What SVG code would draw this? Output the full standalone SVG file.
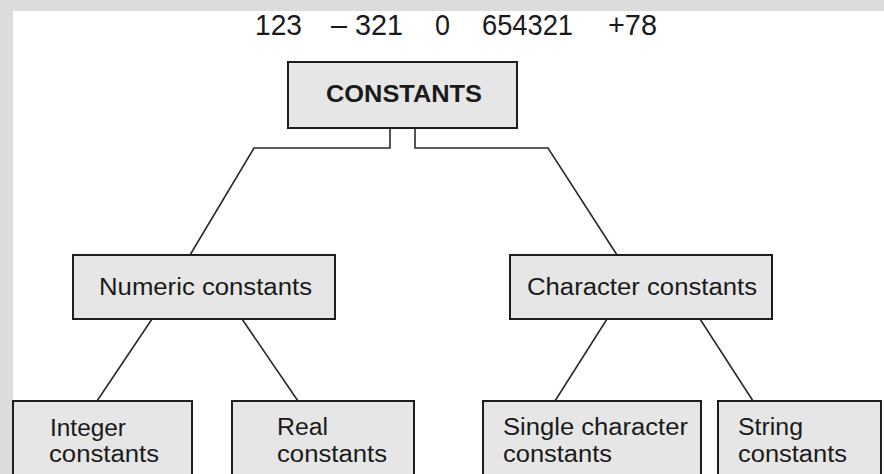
<svg xmlns="http://www.w3.org/2000/svg" width="884" height="474" viewBox="0 0 884 474">
<style>
.box{fill:#e6e6e6;stroke:#1e1e1e;stroke-width:2}
.lbl{font-family:"Liberation Sans",Arial,sans-serif;font-size:23px;fill:#1a1a1a}
.bold{font-weight:bold}
.num{font-family:"Liberation Sans",Arial,sans-serif;font-size:30px;fill:#1a1a1a}
.conn{fill:none;stroke:#2a2a2a;stroke-width:1.6}
</style>
<rect x="0" y="0" width="884" height="474" fill="#dcdcdc"/>
<rect x="13" y="11" width="871" height="463" fill="#ffffff"/>
<g id="numbers">
<text class="num" x="255" y="35" textLength="47" lengthAdjust="spacingAndGlyphs">123</text>
<text class="num" x="331" y="35" textLength="72" lengthAdjust="spacingAndGlyphs">– 321</text>
<text class="num" x="435" y="35" textLength="15" lengthAdjust="spacingAndGlyphs">0</text>
<text class="num" x="482" y="35" textLength="91" lengthAdjust="spacingAndGlyphs">654321</text>
<text class="num" x="608" y="35" textLength="49" lengthAdjust="spacingAndGlyphs">+78</text>
</g>
<g id="connectors">
<polyline class="conn" points="390,128 390,148 254,148 190,255"/>
<polyline class="conn" points="415,128 415,148 548,148 617,255"/>
<line class="conn" x1="152" y1="319" x2="97" y2="401"/>
<line class="conn" x1="242" y1="319" x2="298" y2="401"/>
<line class="conn" x1="607" y1="319" x2="555" y2="401"/>
<line class="conn" x1="700" y1="319" x2="753" y2="401"/>
</g>
<g id="constants">
<rect class="box" x="288" y="62" width="229" height="66"/>
<text class="lbl bold" x="326" y="102" textLength="156" lengthAdjust="spacingAndGlyphs">CONSTANTS</text>
</g>
<g id="numeric">
<rect class="box" x="73" y="255" width="262" height="64"/>
<text class="lbl" x="99" y="295" textLength="213" lengthAdjust="spacingAndGlyphs">Numeric constants</text>
</g>
<g id="character">
<rect class="box" x="510" y="255" width="262" height="64"/>
<text class="lbl" x="527" y="295" textLength="230" lengthAdjust="spacingAndGlyphs">Character constants</text>
</g>
<g id="integer">
<rect class="box" x="13" y="401" width="179" height="80"/>
<text class="lbl" x="50" y="436" textLength="76" lengthAdjust="spacingAndGlyphs">Integer</text>
<text class="lbl" x="49" y="462" textLength="110" lengthAdjust="spacingAndGlyphs">constants</text>
</g>
<g id="real">
<rect class="box" x="232" y="401" width="182" height="80"/>
<text class="lbl" x="277" y="435" textLength="51" lengthAdjust="spacingAndGlyphs">Real</text>
<text class="lbl" x="277" y="462" textLength="110" lengthAdjust="spacingAndGlyphs">constants</text>
</g>
<g id="single">
<rect class="box" x="483" y="401" width="218" height="80"/>
<text class="lbl" x="503" y="435" textLength="185" lengthAdjust="spacingAndGlyphs">Single character</text>
<text class="lbl" x="503" y="462" textLength="109" lengthAdjust="spacingAndGlyphs">constants</text>
</g>
<g id="string">
<rect class="box" x="718" y="401" width="163" height="80"/>
<text class="lbl" x="738" y="435" textLength="65" lengthAdjust="spacingAndGlyphs">String</text>
<text class="lbl" x="738" y="462" textLength="109" lengthAdjust="spacingAndGlyphs">constants</text>
</g>
</svg>
